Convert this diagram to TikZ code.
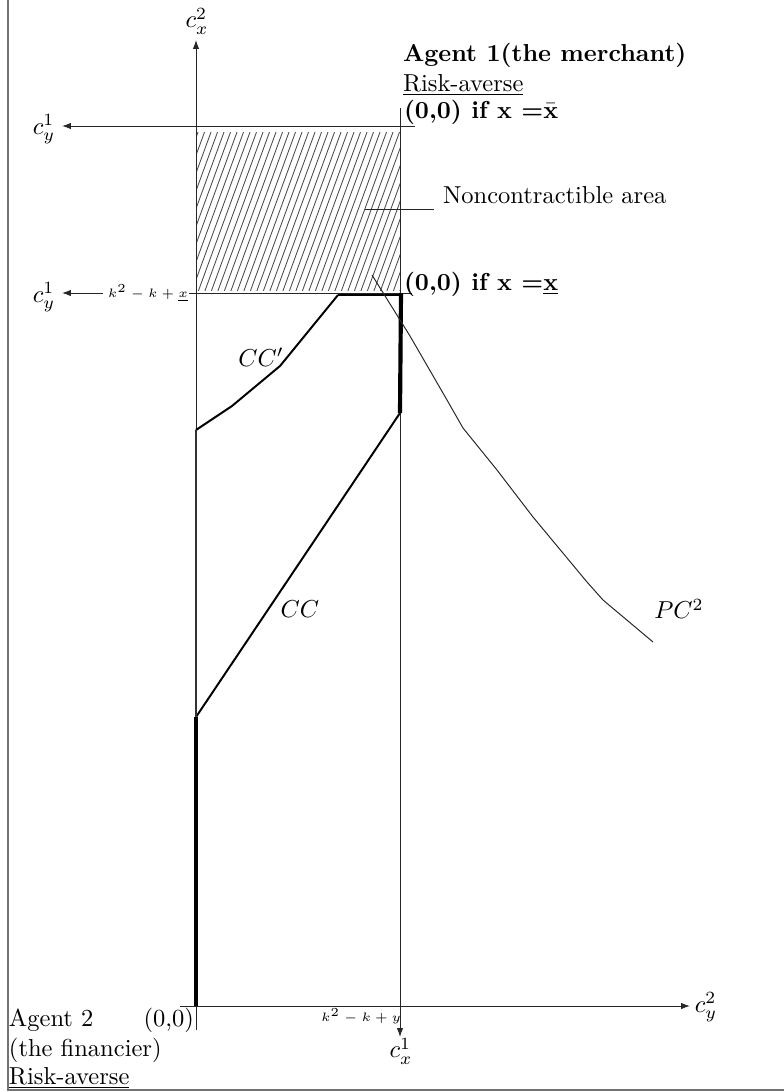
\documentclass[tikz,border=0pt]{standalone}
\usetikzlibrary{arrows.meta}
\begin{document}
\begin{tikzpicture}[x=0.408pt,y=-0.408pt,
  axline/.style={line width=0.4pt,black!85,-{Latex[length=3.6pt,width=2.6pt]}},
  plainline/.style={line width=0.4pt,black!85},
  curvethick/.style={line width=0.8pt,line join=round},
  lbl/.style={inner sep=0pt,outer sep=0pt},
  smalllbl/.style={inner sep=0pt,outer sep=0pt,font=\tiny},
  hatchline/.style={line width=0.35pt,black!70}]
\useasboundingbox (0,0) rectangle (784,1092);
% frame
\draw[line width=0.5pt,black!55] (8,0) -- (8,1090) -- (784,1090);
% hatched area
\begin{scope}
  \clip (197,132) rectangle (400,290);
  \foreach \xx in {120,126.5,...,420}{
    \draw[hatchline] (\xx,292) -- ({\xx+60},128);
  }
\end{scope}
% coordinates
\coordinate (O) at (196,1006);
\coordinate (vbot) at (196,1030);
\coordinate (vtop) at (196,40);
\coordinate (hleft) at (180,1006);
\coordinate (hright) at (690,1006);
\coordinate (x1top) at (400,108);
\coordinate (x1bot) at (400,1037);
\coordinate (y1aR) at (415,126);
\coordinate (y1aL) at (62,126);
\coordinate (y1bR) at (412,293);
\coordinate (y1bM) at (189,293);
\coordinate (y1bA) at (103,293);
\coordinate (y1bL) at (62,293);
% axes
\draw[axline] (vbot) -- (vtop);
\draw[axline] (hleft) -- (hright);
\draw[axline] (x1top) -- (x1bot);
\draw[axline] (y1aR) -- (y1aL);
\draw[plainline] (y1bR) -- (y1bM);
\draw[axline] (y1bA) -- (y1bL);
% axis labels
\node[lbl] (cx2) at (197,21) {$c_x^2$};
\node[lbl] (cy1a) at (44,129) {$c_y^1$};
\node[lbl] (cy1b) at (44,297) {$c_y^1$};
\node[lbl] (cy2) at (706,1007) {$c_y^2$};
\node[lbl] (cx1) at (401,1051) {$c_x^1$};
\node[smalllbl,anchor=base east] (kx) at (188,297) {$k^2-k+\underline{x}$};
\node[smalllbl,anchor=base east] (ky) at (401,1021) {$k^2-k+y$};
% curves CC' and CC
\coordinate (a1) at (196,430);
\coordinate (a2) at (232,406);
\coordinate (a3) at (280,366);
\coordinate (a4) at (338,295);
\coordinate (a5) at (400,295);
\coordinate (b1) at (400,413);
\coordinate (b2) at (196,717);
\draw[curvethick] (a1) -- (a2) -- (a3) -- (a4);
\draw[line width=1.2pt] (a4) -- (a5);
\draw[line width=1.7pt] (401,293) -- (b1);
\draw[curvethick] (b1) -- (b2);
\draw[line width=0.8pt,black!80] (a1) -- (b2);
\draw[line width=1.3pt] (b2) -- (O);
% PC2
\coordinate (p1) at (372,275);
\coordinate (p9) at (653,642);
\draw[plainline,line join=round] (p1) -- (410,336) -- (447,400) -- (463,428) -- (497,470) -- (533,517) -- (587,582) -- (603,600) -- (p9);
% curve labels
\node[lbl] (ccp) at (261,357) {$CC'$};
\node[lbl] (cc) at (300,609) {$CC$};
\node[lbl] (pc2) at (679,609) {$PC^2$};
% noncontractible
\coordinate (nl1) at (365,209);
\coordinate (nl2) at (434,209);
\draw[plainline] (nl1) -- (nl2);
\node[lbl,anchor=base west] (nc) at (443,203) {Noncontractible area};
% agent 1 texts
\node[lbl,anchor=base west] (ag1) at (403,61) {\bfseries Agent 1(the merchant)};
\node[lbl,anchor=base west] (ra1) at (403,91) {\underline{Risk-averse}};
\node[lbl,anchor=base west] (z1) at (404,118) {\bfseries (0,0) if x =$\bar{\mathbf{x}}$};
\node[lbl,anchor=base west] (z2) at (404,290) {\bfseries (0,0) if x =$\underline{\mathbf{x}}$};
% agent 2 texts
\node[lbl,anchor=base west] (ag2) at (9,1026) {Agent 2};
\node[lbl,anchor=base west] (fin) at (9,1056) {(the financier)};
\node[lbl,anchor=base west] (ra2) at (9,1084) {\underline{Risk-averse}};
\node[lbl,anchor=base east] (org) at (194,1026) {(0,0)};
\end{tikzpicture}
\end{document}
